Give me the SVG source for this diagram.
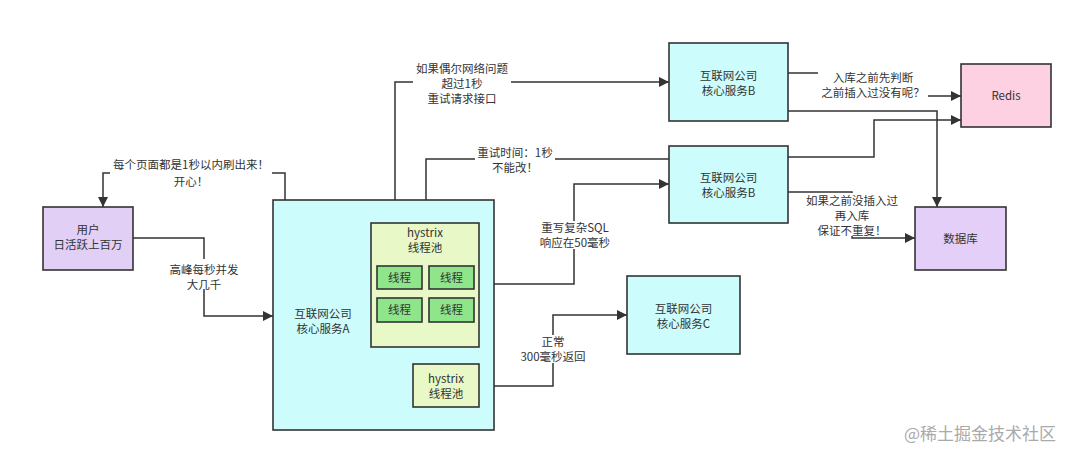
<svg xmlns="http://www.w3.org/2000/svg" width="1080" height="459" viewBox="0 0 1080 459">
<defs>
<marker id="arr" viewBox="0 0 10 10" refX="10" refY="5" markerWidth="10" markerHeight="10" markerUnits="userSpaceOnUse" orient="auto"><path d="M0,0 L10,5 L0,10 z" fill="#333"/></marker>
<style>
text{font-family:"Noto Sans CJK SC","Liberation Sans",sans-serif;font-size:11.5px;fill:#333;text-anchor:middle}
.box{stroke:#333;stroke-width:1.6}
.svc{fill:#ccfcfc}
.pool{fill:#e8f8c6}
.thr{fill:#8fe68a}
.line{fill:none;stroke:#333;stroke-width:1.5}
.bg{fill:#fff}
.wm{font-size:17px;fill:#aaa;text-anchor:start}
</style>
</defs>
<rect width="1080" height="459" fill="#fff"/>

<g id="connectors">
<path class="line" d="M133,238 H204 V316 H273" marker-end="url(#arr)"/>
<path class="line" d="M285,200 V173 H103 V207" marker-end="url(#arr)"/>
<path class="line" d="M395,223 V82 H669" marker-end="url(#arr)"/>
<path class="line" d="M669,159 H426 V223" marker-end="url(#arr)"/>
<path class="line" d="M479,284 H574 V184 H669" marker-end="url(#arr)"/>
<path class="line" d="M479,386 H553 V315 H627" marker-end="url(#arr)"/>
<path class="line" d="M788,73 H873 V96 H961" marker-end="url(#arr)"/>
<path class="line" d="M788,111 H937 V207" marker-end="url(#arr)"/>
<path class="line" d="M788,157 H874 V120 H961" marker-end="url(#arr)"/>
<path class="line" d="M788,192 H852 V238 H915" marker-end="url(#arr)"/>
</g>

<g id="labels">
<rect class="bg" x="168" y="259" width="72" height="30"/>
<text x="204" y="274">高峰每秒并发</text>
<text x="204" y="289">大几千</text>
<rect class="bg" x="110" y="158" width="162" height="30"/>
<text x="191" y="169">每个页面都是1秒以内刷出来！</text>
<text x="191" y="186">开心！</text>
<rect class="bg" x="413" y="61" width="98" height="46"/>
<text x="462" y="73">如果偶尔网络问题</text>
<text x="462" y="88">超过1秒</text>
<text x="462" y="103">重试请求接口</text>
<rect class="bg" x="475" y="146" width="80" height="29"/>
<text x="515" y="157">重试时间：1秒</text>
<text x="515" y="172">不能改！</text>
<rect class="bg" x="538" y="221" width="74" height="28"/>
<text x="575" y="232">重写复杂SQL</text>
<text x="575" y="247">响应在50毫秒</text>
<rect class="bg" x="519" y="335" width="68" height="28"/>
<text x="553" y="346">正常</text>
<text x="553" y="361">300毫秒返回</text>
<rect class="bg" x="818" y="68" width="110" height="32"/>
<text x="873" y="82">入库之前先判断</text>
<text x="873" y="97">之前插入过没有呢？</text>
<rect class="bg" x="804" y="193" width="96" height="43"/>
<text x="852" y="205">如果之前没插入过</text>
<text x="852" y="220">再入库</text>
<text x="852" y="235">保证不重复！</text>
</g>

<g id="user">
<rect class="box" x="43" y="207" width="90" height="63" fill="#e1cff5"/>
<text x="88" y="234">用户</text>
<text x="88" y="249">日活跃上百万</text>
</g>

<g id="serviceA">
<rect class="box svc" x="273" y="200" width="221" height="230"/>
<text x="323" y="318">互联网公司</text>
<text x="323" y="333">核心服务A</text>
</g>

<g id="pool1">
<rect class="box pool" x="371" y="223" width="108" height="124"/>
<text x="425" y="237">hystrix</text>
<text x="425" y="252">线程池</text>
</g>
<g id="thread1"><rect class="box thr" x="377" y="266" width="45" height="23"/><text x="399.5" y="282">线程</text></g>
<g id="thread2"><rect class="box thr" x="429" y="266" width="45" height="23"/><text x="451.5" y="282">线程</text></g>
<g id="thread3"><rect class="box thr" x="377" y="298" width="45" height="24"/><text x="399.5" y="314">线程</text></g>
<g id="thread4"><rect class="box thr" x="429" y="298" width="45" height="24"/><text x="451.5" y="314">线程</text></g>

<g id="pool2">
<rect class="box pool" x="413" y="364" width="66" height="43"/>
<text x="446" y="383">hystrix</text>
<text x="446" y="398">线程池</text>
</g>

<g id="serviceB1">
<rect class="box svc" x="669" y="43" width="119" height="78"/>
<text x="728.5" y="80">互联网公司</text>
<text x="728.5" y="95">核心服务B</text>
</g>

<g id="serviceB2">
<rect class="box svc" x="669" y="146" width="119" height="77"/>
<text x="728.5" y="182">互联网公司</text>
<text x="728.5" y="197">核心服务B</text>
</g>

<g id="serviceC">
<rect class="box svc" x="627" y="276" width="113" height="78"/>
<text x="683.5" y="313">互联网公司</text>
<text x="683.5" y="328">核心服务C</text>
</g>

<g id="redis">
<rect class="box" x="961" y="64" width="90" height="63" fill="#fdd0e2"/>
<text x="1006" y="100">Redis</text>
</g>

<g id="database">
<rect class="box" x="915" y="207" width="91" height="63" fill="#e4cff8"/>
<text x="960.5" y="243">数据库</text>
</g>

<text class="wm" x="904" y="440">@稀土掘金技术社区</text>
</svg>
